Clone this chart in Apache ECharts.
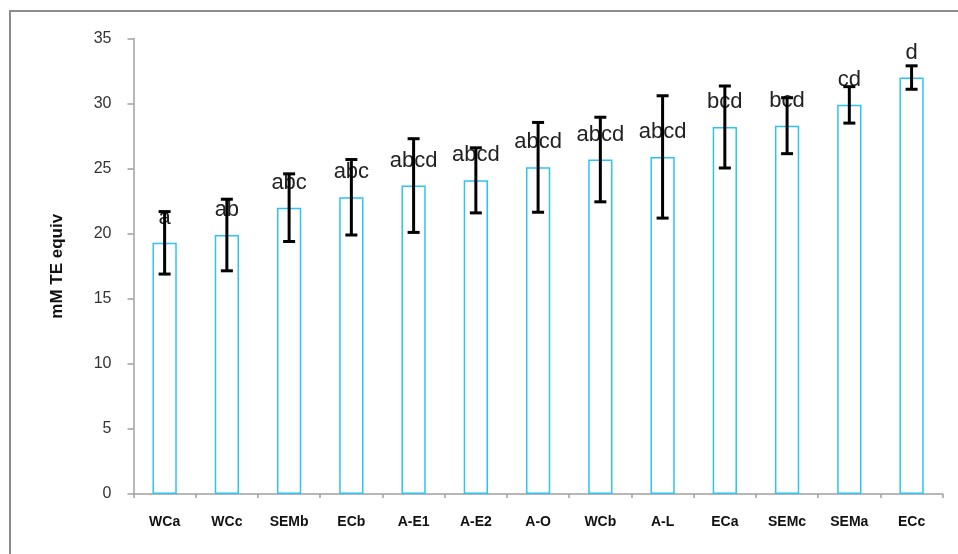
<!DOCTYPE html>
<html>
<head>
<meta charset="utf-8">
<script src="https://cdn.jsdelivr.net/npm/echarts@6/dist/echarts.min.js"></script>
<style>
  html, body { margin: 0; padding: 0; background: #ffffff; }
  #chart { width: 958px; height: 554px; }
</style>
</head>
<body>
<div id="chart"></div>
<script>
// Treatments, ordered by mean antioxidant capacity
var categories = ['WCa', 'WCc', 'SEMb', 'ECb', 'A-E1', 'A-E2', 'A-O', 'WCb', 'A-L', 'ECa', 'SEMc', 'SEMa', 'ECc'];
// Mean values (mM TE equiv)
var means = [19.3, 19.9, 22.0, 22.8, 23.7, 24.1, 25.1, 25.7, 25.9, 28.2, 28.3, 29.9, 32.0];
// Standard deviations
var sds = [2.4, 2.75, 2.6, 2.9, 3.6, 2.5, 3.45, 3.25, 4.7, 3.15, 2.15, 1.4, 0.9];
// Significance groups
var letters = ['a', 'ab', 'abc', 'abc', 'abcd', 'abcd', 'abcd', 'abcd', 'abcd', 'bcd', 'bcd', 'cd', 'd'];
// Y axis ticks
var yMin = 0, yMax = 35, yStep = 5;

var chart = echarts.init(document.getElementById('chart'), null, { renderer: 'canvas' });

var errData = means.map(function (m, i) { return [i, m, sds[i]]; });

chart.setOption({
  animation: false,
  backgroundColor: '#ffffff',
  graphic: [{
    type: 'rect',
    shape: { x: 10, y: 11, width: 1000, height: 600 },
    style: { fill: 'none', stroke: '#8c8c8c', lineWidth: 2 },
    silent: true,
    z: -10
  }],
  grid: { left: 133.5, top: 38.5, right: 15.3, bottom: 60 },
  xAxis: {
    type: 'category',
    data: categories,
    axisLine: { lineStyle: { color: '#a0a0a0', width: 1.5 } },
    axisTick: { show: true, length: 4, lineStyle: { color: '#a0a0a0', width: 1.5 } },
    axisLabel: {
      margin: 21,
      fontFamily: 'Liberation Sans, Arial, sans-serif',
      fontWeight: 'bold',
      fontSize: 14,
      color: '#111111'
    }
  },
  yAxis: {
    type: 'value',
    min: yMin,
    max: yMax,
    interval: yStep,
    name: 'mM TE equiv',
    nameLocation: 'middle',
    nameGap: 68,
    nameRotate: 90,
    nameTextStyle: {
      fontFamily: 'Liberation Sans, Arial, sans-serif',
      fontWeight: 'bold',
      fontSize: 17,
      color: '#111111'
    },
    axisLine: { show: true, lineStyle: { color: '#a0a0a0', width: 1.5 } },
    axisTick: { show: true, inside: false, length: 6, lineStyle: { color: '#a0a0a0', width: 1.5 } },
    splitLine: { show: false },
    axisLabel: {
      margin: 22,
      fontFamily: 'Liberation Sans, Arial, sans-serif',
      fontSize: 16,
      color: '#333333'
    }
  },
  series: [{
    type: 'bar',
    data: means,
    barWidth: '39%',
    itemStyle: { color: '#ffffff', borderColor: '#2ec3f3', borderWidth: 1.5 },
    label: {
      show: true,
      position: 'top',
      distance: 14,
      formatter: function (p) { return letters[p.dataIndex]; },
      fontFamily: 'Liberation Sans, Arial, sans-serif',
      fontSize: 22,
      color: '#222222'
    },
    z: 2
  }, {
    type: 'custom',
    data: errData,
    encode: { x: 0, y: 1 },
    z: 5,
    renderItem: function (params, api) {
      var i = api.value(0);
      var m = api.value(1);
      var s = api.value(2);
      var hi = api.coord([i, m + s]);
      var lo = api.coord([i, m - s]);
      var cap = 6;
      var st = { stroke: '#000000', lineWidth: 3 };
      return {
        type: 'group',
        children: [
          { type: 'line', shape: { x1: hi[0], y1: hi[1], x2: lo[0], y2: lo[1] }, style: st },
          { type: 'line', shape: { x1: hi[0] - cap, y1: hi[1], x2: hi[0] + cap, y2: hi[1] }, style: st },
          { type: 'line', shape: { x1: lo[0] - cap, y1: lo[1], x2: lo[0] + cap, y2: lo[1] }, style: st }
        ]
      };
    }
  }]
});
</script>
</body>
</html>
